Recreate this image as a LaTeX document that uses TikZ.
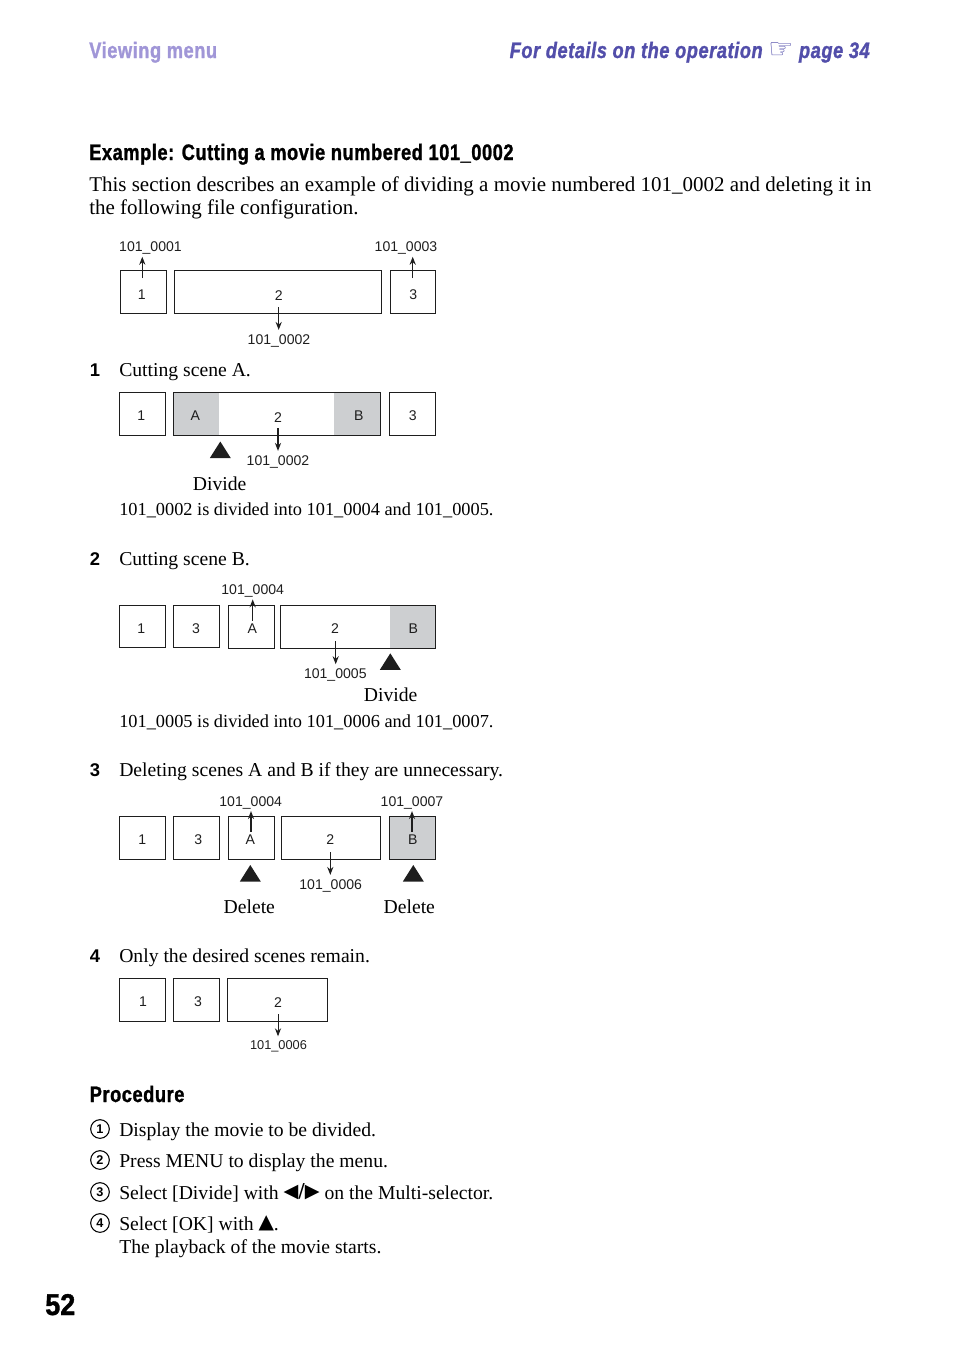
\documentclass[tikz,border=0pt]{standalone}
\usepackage{fontspec}
\setmainfont{Liberation Serif}
\setsansfont{Liberation Sans}
\newfontfamily\symfont{DejaVu Sans}
\newfontfamily\hdfont[FakeStretch=0.814,LetterSpace=2.5,FakeBold=1.2]{Liberation Sans}
\newfontfamily\pgfont[FakeStretch=0.9,FakeBold=1.2]{Liberation Sans}
\usetikzlibrary{arrows.meta, positioning}
\definecolor{lav}{RGB}{160,150,215}
\definecolor{ind}{RGB}{82,78,170}
\definecolor{gry}{RGB}{205,207,209}
\definecolor{coal}{RGB}{30,30,30}

\begin{document}
\begin{tikzpicture}[
    x=0.75pt, y=-0.75pt,
    frm/.style 2 args={draw=coal,line width=0.7pt,inner sep=0pt,
                minimum width=#1*0.75pt, minimum height=#2*0.75pt},
    gbar/.style 2 args={fill=gry,inner sep=0pt,outer sep=0pt,
                minimum width=#1*0.75pt, minimum height=#2*0.75pt},
    lb/.style={font=\sffamily\fontsize{10.55}{12}\selectfont,text=coal,inner sep=1.5pt},
    dg/.style={lb,yshift=-0.6pt},
    fl/.style={lb,anchor=base},
    intx/.style={font=\fontsize{15.74}{19}\selectfont,text=black,inner sep=0pt,anchor=base west},
    txt/.style={intx,font=\fontsize{14.75}{18}\selectfont},
    tsm/.style={intx,font=\fontsize{13.75}{17}\selectfont},
    txm/.style={txt,anchor=base},
    hd/.style={font=\hdfont\bfseries\fontsize{16.8}{20}\selectfont,text=black,inner sep=0pt,anchor=base west},
    nm/.style={font=\sffamily\bfseries\fontsize{13.8}{15}\selectfont,text=black,inner sep=0pt,anchor=base west},
    cn/.style={circle,draw=black,line width=0.8pt,minimum size=14pt,inner sep=0pt,
               font=\sffamily\bfseries\fontsize{9.5}{10}\selectfont},
    ar/.style={-{Stealth[length=6pt,width=4.6pt]},line width=0.75pt,coal},
    art/.style={ar,line width=1.15pt},
    ard/.style={ar,shorten >=1.5pt},
    tri/.pic={\fill[coal] (0,0) -- (10.5,16.6) -- (-10.5,16.6) -- cycle;}
  ]
    \useasboundingbox (0,0) rectangle (954,1357);

    %% Page head ──────────────────────────────
    \node[hd,text=lav] (vm) at (89,58) {Viewing menu};
    \node[hd,text=ind,anchor=base east] (fd) at (870,58)
          {\itshape For details on the operation {\symfont\upshape\fontsize{21}{20}\selectfont ☞} page 34};

    %% Intro ──────────────────────────────────
    \node[hd] (ex) at (89,160) {Example: Cutting a movie numbered 101\_0002};
    \node[intx] (in1) at (89,191) {This section describes an example of dividing a movie numbered 101\_0002 and deleting it in};
    \node[intx] (in2) at (89,214) {the following file configuration.};

    %% File configuration ─────────────────────
    \node[frm={46.4}{43}]  (a1) at (143.5,291.8) {};
    \node[frm={207.4}{43}] (a2) at (278,291.8) {};
    \node[frm={45}{43}]    (a3) at (412.8,291.8) {};
    \node[dg] (a1n) at (141.7,294) {1};
    \node[dg] (a2n) at (278.7,295) {2};
    \node[dg] (a3n) at (413.3,294) {3};
    \node[fl] (f1) at (150.5,251.7) {101\_0001};
    \node[fl] (f3) at (406,251.7) {101\_0003};
    \node[fl] (f2) at (279,344) {101\_0002};
    \coordinate (a1s) at (142.3,278);
    \coordinate (a3s) at (412.7,278);
    \coordinate (a2s) at (278.7,307);
    \draw[ar]  (a1s) -- (a1s |- f1.south);
    \draw[art] (a3s) -- (a3s |- f3.south);
    \draw[ard,line width=1pt] (a2s) -- (a2s |- f2.north);

    %% Step 1 ─────────────────────────────────
    \node[nm]  (s1) at (89.5,376) {1};
    \node[txt] (s1t) at (119,376) {Cutting scene A.};
    \node[gbar={45.7}{42.6}] (bga) at (196.2,414) {};
    \node[gbar={46.7}{42.6}] (bgb) at (357.3,414) {};
    \node[frm={46.4}{42.6}]  (b1) at (142.5,414) {};
    \node[frm={207.4}{42.6}] (b2) at (277,414) {};
    \node[frm={46}{42.6}]    (b3) at (412.3,414) {};
    \node[dg] (b1n) at (141.3,414.7) {1};
    \node[dg] (ban) at (195.3,414.7) {A};
    \node[dg] (b2n) at (278,417) {2};
    \node[dg] (bbn) at (358.7,414.7) {B};
    \node[dg] (b3n) at (412.7,415) {3};
    \pic at (220.3,441.5) {tri};
    \node[fl] (g2) at (278,465) {101\_0002};
    \coordinate (b2s) at (278,428);
    \draw[ard,line width=1pt] (b2s) -- (b2s |- g2.north);
    \node[txm] (bd) at (219.7,490) {Divide};
    \node[tsm] (bt) at (119,515) {101\_0002 is divided into 101\_0004 and 101\_0005.};

    %% Step 2 ─────────────────────────────────
    \node[nm]  (s2) at (89.5,565) {2};
    \node[txt] (s2t) at (119,565) {Cutting scene B.};
    \node[gbar={45.3}{43}] (cgb) at (412.7,626.8) {};
    \node[frm={46.4}{42}]  (c1) at (142.5,626.3) {};
    \node[frm={46.4}{42}]  (c3) at (196.5,626.3) {};
    \node[frm={46.4}{43}]  (cA) at (251.5,626.8) {};
    \node[frm={155}{43}]   (c2) at (357.8,626.8) {};
    \node[dg] (c1n) at (141.3,628) {1};
    \node[dg] (c3n) at (196,628) {3};
    \node[dg] (cAn) at (252.3,628) {A};
    \node[dg] (c2n) at (335,628) {2};
    \node[dg] (cBn) at (413.3,628) {B};
    \node[fl] (h4) at (252.7,594.3) {101\_0004};
    \node[fl] (h5) at (335.3,678.3) {101\_0005};
    \coordinate (cAs) at (252.7,620.7);
    \coordinate (c2s) at (335.7,641);
    \draw[art] (cAs) -- (cAs |- h4.south);
    \draw[ard] (c2s) -- (c2s |- h5.north);
    \pic at (390.3,653.3) {tri};
    \node[txm] (cd) at (390.7,701) {Divide};
    \node[tsm] (ct) at (119,727) {101\_0005 is divided into 101\_0006 and 101\_0007.};

    %% Step 3 ─────────────────────────────────
    \node[nm]  (s3) at (89.5,776) {3};
    \node[txt] (s3t) at (119,776) {Deleting scenes A and B if they are unnecessary.};
    \node[frm={46.4}{43}] (d1) at (142.5,837.8) {};
    \node[frm={46.4}{43}] (d3) at (196.5,837.8) {};
    \node[frm={46.4}{43}] (dA) at (251.5,837.8) {};
    \node[frm={99.4}{43}] (d2) at (331,837.8) {};
    \node[frm={46}{43},fill=gry] (dB) at (412.3,837.8) {};
    \node[dg] (d1n) at (142.3,838.7) {1};
    \node[dg] (d3n) at (198.3,838.7) {3};
    \node[dg] (dAn) at (250.3,838.7) {A};
    \node[dg] (d2n) at (330.3,838.7) {2};
    \node[dg] (dBn) at (412.7,838.7) {B};
    \node[fl] (j4) at (250.7,806) {101\_0004};
    \node[fl] (j7) at (412,806) {101\_0007};
    \node[fl] (j6) at (330.7,889) {101\_0006};
    \coordinate (dAs) at (251,831.7);
    \coordinate (dBs) at (412,831.7);
    \coordinate (d2s) at (330.3,852);
    \draw[art] (dAs) -- (dAs |- j4.south);
    \draw[art] (dBs) -- (dBs |- j7.south);
    \draw[ard] (d2s) -- (d2s |- j6.north);
    \pic at (250.3,865) {tri};
    \pic at (413.3,865) {tri};
    \node[txm] (dl1) at (249.3,913) {Delete};
    \node[txm] (dl2) at (409.3,913) {Delete};

    %% Step 4 ─────────────────────────────────
    \node[nm]  (s4) at (89.5,962.5) {4};
    \node[txt] (s4t) at (119,962.5) {Only the desired scenes remain.};
    \node[frm={46.4}{43}]  (e1) at (142.5,999.8) {};
    \node[frm={46.4}{43}]  (e3) at (196.5,999.8) {};
    \node[frm={100.6}{43}] (e2) at (277.5,999.8) {};
    \node[dg] (e1n) at (143,1001) {1};
    \node[dg] (e3n) at (198,1001) {3};
    \node[dg] (e2n) at (278,1002) {2};
    \node[fl,font=\sffamily\fontsize{9.6}{12}\selectfont] (k6) at (278.5,1049.5) {101\_0006};
    \coordinate (e2s) at (278,1014);
    \draw[ard] (e2s) -- (e2s |- k6.north);

    %% Procedure ──────────────────────────────
    \node[hd] (pr) at (89.5,1102) {Procedure};
    \node[cn] (p1) at (100,1129) {1};
    \node[txt] (p1t) at (119,1136) {Display the movie to be divided.};
    \node[cn] (p2) at (100,1160) {2};
    \node[txt] (p2t) at (119,1167) {Press MENU to display the menu.};
    \node[cn] (p3) at (100,1192) {3};
    \node[txt] (p3t) at (119,1199) {Select [Divide] with {\symfont\fontsize{14.4}{15}\selectfont\raisebox{0.8pt}{◀/▶}} on the Multi-selector.};
    \node[cn] (p4) at (100,1223) {4};
    \node[txt] (p4t) at (119,1230) {Select [OK] with {\symfont\fontsize{15}{15}\selectfont\raisebox{0.8pt}{▲}}.};
    \node[txt] (p4u) at (119,1253) {The playback of the movie starts.};

    %% Page number ────────────────────────────
    \node[hd,font=\pgfont\bfseries\fontsize{22.5}{26}\selectfont] (pg) at (45,1315) {52};
  \end{tikzpicture}
\end{document}
